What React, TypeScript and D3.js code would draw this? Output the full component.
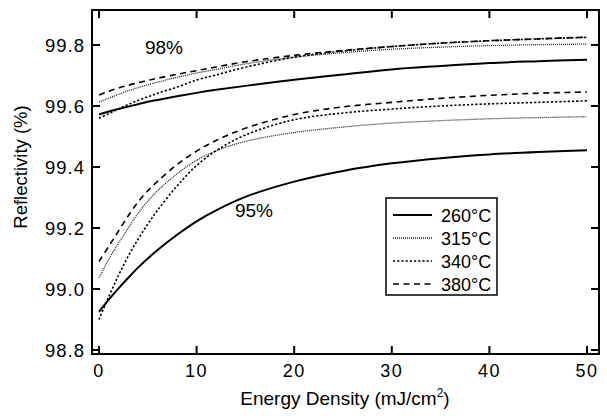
import React from "react";
import * as d3 from "d3";

const energy = [0, 1, 2, 3, 4, 5, 6, 8, 10, 12, 15, 20, 25, 30, 35, 40, 45, 50];

// lower group (95%)
const low260 = [98.925, 98.965, 99.002, 99.037, 99.07, 99.1, 99.128, 99.178, 99.222, 99.258, 99.302, 99.352, 99.387, 99.412, 99.429, 99.441, 99.449, 99.455];
const low315 = [99.036, 99.098, 99.15, 99.2, 99.248, 99.288, 99.322, 99.378, 99.422, 99.453, 99.484, 99.513, 99.531, 99.544, 99.552, 99.558, 99.562, 99.565];
const low340 = [98.9, 98.975, 99.045, 99.108, 99.163, 99.213, 99.258, 99.338, 99.405, 99.453, 99.505, 99.555, 99.577, 99.59, 99.6, 99.607, 99.612, 99.617];
const low380 = [99.09, 99.14, 99.19, 99.24, 99.285, 99.322, 99.353, 99.408, 99.452, 99.487, 99.527, 99.572, 99.597, 99.612, 99.625, 99.635, 99.642, 99.646];

// upper group (98%)
const up260 = [99.572, 99.582, 99.59, 99.598, 99.606, 99.614, 99.62, 99.632, 99.643, 99.653, 99.666, 99.686, 99.703, 99.72, 99.731, 99.741, 99.747, 99.752];
const up315 = [99.613, 99.626, 99.638, 99.65, 99.66, 99.67, 99.678, 99.694, 99.708, 99.72, 99.738, 99.76, 99.775, 99.786, 99.793, 99.798, 99.801, 99.803];
const up340 = [99.56, 99.575, 99.59, 99.605, 99.618, 99.63, 99.642, 99.662, 99.685, 99.702, 99.727, 99.76, 99.78, 99.795, 99.806, 99.814, 99.82, 99.825];
const up380 = [99.636, 99.648, 99.659, 99.668, 99.676, 99.684, 99.691, 99.704, 99.716, 99.728, 99.745, 99.766, 99.782, 99.795, 99.806, 99.814, 99.82, 99.826];

const xTicks = [0, 10, 20, 30, 40, 50];
const yTicks = [98.8, 99.0, 99.2, 99.4, 99.6, 99.8];
const legendLabels = ["260°C", "315°C", "340°C", "380°C"];

const styles = [
  { dash: "none", width: 2, color: "#000" },
  { dash: "1,1", width: 1.3, color: "#222" },
  { dash: "2.2,2", width: 1.6, color: "#000" },
  { dash: "6,4.5", width: 1.6, color: "#000" },
];

const series = [
  { style: 0, values: up260 },
  { style: 1, values: up315 },
  { style: 2, values: up340 },
  { style: 3, values: up380 },
  { style: 0, values: low260 },
  { style: 1, values: low315 },
  { style: 2, values: low340 },
  { style: 3, values: low380 },
];

const L = 92, R = 599, T = 10, B = 354;
const font = "'Liberation Sans', Arial, Helvetica, sans-serif";

export default function App() {
  const x = d3.scaleLinear().domain([0, 50]).range([99, 587]);
  const y = d3.scaleLinear().domain([98.8, 99.8]).range([350, 45]);
  const line = d3
    .line<number>()
    .x((_, i) => x(energy[i]))
    .y((d) => y(d))
    .curve(d3.curveCatmullRom.alpha(0.5));

  return (
    <svg width={607} height={416} style={{ position: "absolute", left: 0, top: 0, background: "#fff" }}>
      <g fontFamily={font} fill="#000">
        {series.map((s, i) => {
          const st = styles[s.style];
          return (
            <path
              key={i}
              d={line(s.values) || ""}
              fill="none"
              stroke={st.color}
              strokeWidth={st.width}
              strokeDasharray={st.dash}
            />
          );
        })}
        <rect x={L} y={T} width={R - L} height={B - T} fill="none" stroke="#000" strokeWidth={2} />
        {xTicks.map((t) => (
          <g key={"x" + t}>
            <line x1={x(t)} x2={x(t)} y1={B} y2={B - 8} stroke="#000" strokeWidth={2} />
            <line x1={x(t)} x2={x(t)} y1={T} y2={T + 8} stroke="#000" strokeWidth={2} />
            <text x={x(t)} y={377} textAnchor="middle" fontSize={18} letterSpacing={1.5}>
              {t}
            </text>
          </g>
        ))}
        {yTicks.map((t) => (
          <g key={"y" + t}>
            <line x1={L} x2={L + 8} y1={y(t)} y2={y(t)} stroke="#000" strokeWidth={2} />
            <line x1={R} x2={R - 8} y1={y(t)} y2={y(t)} stroke="#000" strokeWidth={2} />
            <text x={85} y={y(t) + 6.5} textAnchor="end" fontSize={18.5} letterSpacing={1}>
              {t.toFixed(1)}
            </text>
          </g>
        ))}
        <text x={345} y={405} textAnchor="middle" fontSize={19}>
          Energy Density  (mJ/cm
          <tspan fontSize={12} dy={-8}>2</tspan>
          <tspan dy={8}>)</tspan>
        </text>
        <text transform="translate(27,167) rotate(-90)" textAnchor="middle" fontSize={18.5}>
          Reflectivity  (%)
        </text>
        <text x={164} y={54} textAnchor="middle" fontSize={19}>98%</text>
        <text x={254} y={217} textAnchor="middle" fontSize={19}>95%</text>
        <rect x={386} y={198} width={111} height={97} fill="#fff" stroke="#000" strokeWidth={1.5} />
        {legendLabels.map((lab, i) => {
          const st = styles[i];
          const cy = 215 + i * 23;
          return (
            <g key={lab}>
              <line x1={393} x2={432} y1={cy} y2={cy} stroke={st.color} strokeWidth={st.width} strokeDasharray={st.dash} />
              <text x={441} y={cy + 6.5} fontSize={18}>{lab}</text>
            </g>
          );
        })}
      </g>
    </svg>
  );
}
